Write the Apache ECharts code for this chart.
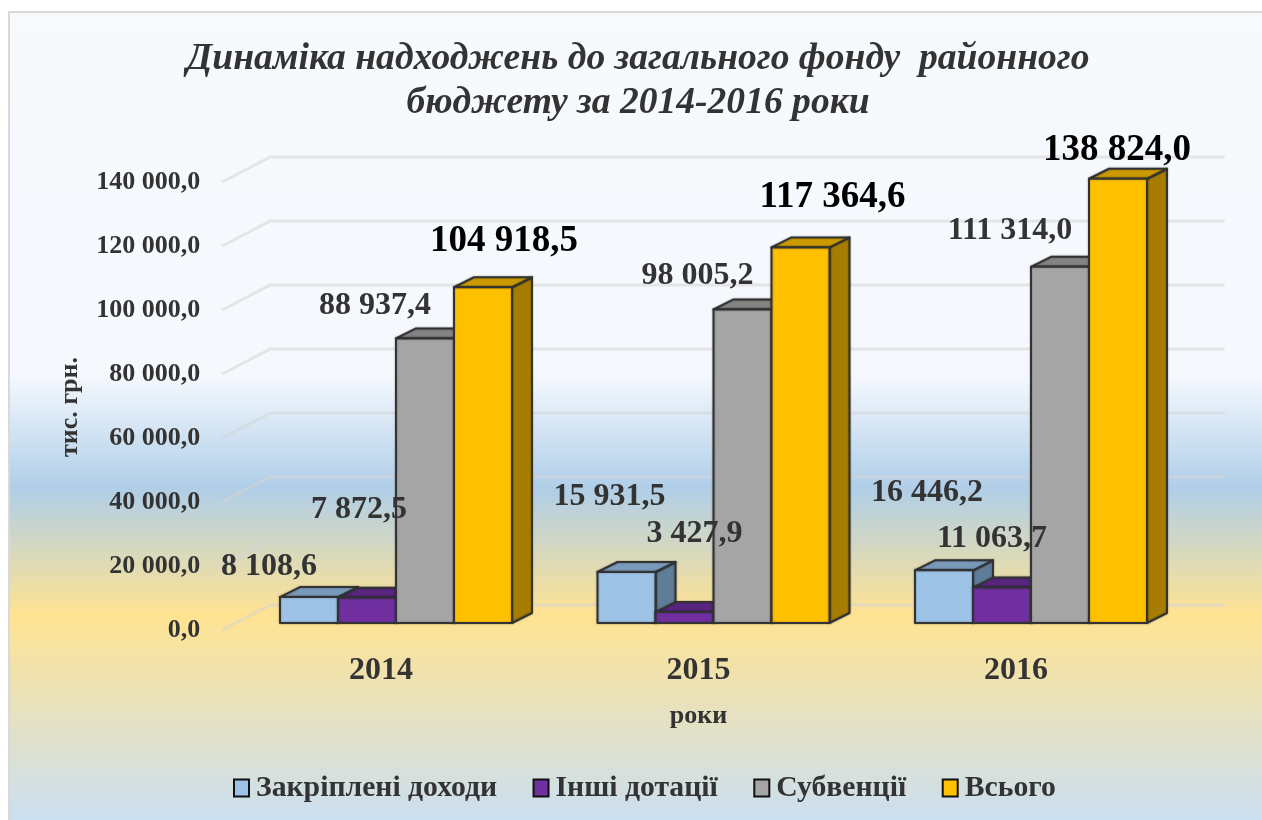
<!DOCTYPE html>
<html><head><meta charset="utf-8">
<style>html,body{margin:0;padding:0;background:#fff}#c{width:1262px;height:820px}</style>
<script src="https://cdn.jsdelivr.net/npm/echarts@6/dist/echarts.min.js"></script>
</head><body><div id="c"></div>
<script>
const years = ['2014','2015','2016'];
const yTicks = [0,20000,40000,60000,80000,100000,120000,140000];
const zakripleni = [8108.6,15931.5,16446.2];
const inshi = [7872.5,3427.9,11063.7];
const subventsii = [88937.4,98005.2,111314.0];
const vsogo = [104918.5,117364.6,138824.0];
const seriesNames = ['Закріплені доходи','Інші дотації','Субвенції','Всього'];
const seriesData = [zakripleni,inshi,subventsii,vsogo];
const colorsFront = ['#9DC3E6','#7030A0','#A5A5A5','#FFC000'];
const colorsTop = ['#7A9ABA','#59267F','#848484','#CC9A00'];
const colorsSide = ['#5F7D98','#46205F','#6A6A6A','#A67D00'];
// label centre offsets relative to the top-centre of each bar (layout only)
const labelShift = [
  [[-40,-30],[-17,-75],[-17,-78]],
  [[-8,-88],[10,-78],[-10,-49]],
  [[-50,-33],[-45,-34],[-50,-36]],
  [[21,-46],[32,-50],[-1,-28]]
];
const fmt = v => { const p = v.toFixed(1).split('.'); return p[0].replace(/\B(?=(\d{3})+$)/g,' ')+','+p[1]; };
const W = 58, DX = 20, DY = 10;
const BACK_X = 33, BACK_Y = 18, FRONT_Y = 7, FRONT_X = 15;

const barSeries = seriesNames.map((name,s)=>({
  type:'custom', name, coordinateSystem:'cartesian2d', z:5,
  itemStyle:{color:colorsFront[s]},
  encode:{x:0,y:1},
  data: seriesData[s].map((v,i)=>[years[i],v]),
  renderItem(params,api){
    const c = api.coord([api.value(0),api.value(1)]);
    const b = api.coord([api.value(0),0]);
    const x0 = c[0]+(s-2)*W, x1 = x0+W, yt = c[1], yb = b[1];
    const line = {stroke:'#333',lineWidth:2,lineJoin:'round',shadowBlur:2,shadowColor:'rgba(0,0,0,0.35)'};
    const i = params.dataIndex, sh = labelShift[s][i], big = s===3;
    return {type:'group',children:[
      {type:'polygon',shape:{points:[[x1,yb],[x1+DX,yb-DY],[x1+DX,yt-DY],[x1,yt]]},style:{fill:colorsSide[s],...line}},
      {type:'polygon',shape:{points:[[x0,yt],[x0+DX,yt-DY],[x1+DX,yt-DY],[x1,yt]]},style:{fill:colorsTop[s],...line}},
      {type:'rect',shape:{x:x0,y:yt,width:W,height:yb-yt},style:{fill:colorsFront[s],...line}},
      {type:'text',z2:50,x:x0+W/2+sh[0],y:yt+sh[1],style:{
        text:fmt(api.value(1)),align:'center',verticalAlign:'middle',
        font:`bold ${big?37:32}px "Liberation Serif"`,fill:big?'#000':'#333'}}
    ]};
  }
}));

const gridSeries = {
  type:'custom', name:'grid', silent:true, z:1, coordinateSystem:'cartesian2d',
  data: yTicks.map(v=>[years[0],v]),
  renderItem(params,api){
    const y = api.coord([years[0],api.value(1)])[1];
    const r = params.coordSys;
    const st = {stroke:'#D4D4D4',lineWidth:3,opacity:.55,fill:null};
    return {type:'polyline',shape:{points:[[r.x-FRONT_X,y+FRONT_Y],[r.x+BACK_X,y-BACK_Y],[r.x+r.width+BACK_X+2,y-BACK_Y]]},style:st};
  }
};

const chart = echarts.init(document.getElementById('c'),null,{renderer:'canvas'});
chart.setOption({
  animation:false,
  graphic:[{type:'rect',z:-10,silent:true,shape:{x:9,y:12,width:1260,height:815},
    style:{stroke:'#D9D9D9',lineWidth:2,fill:new echarts.graphic.LinearGradient(0,0,0,1,[
      {offset:0,color:'#F6FAFD'},{offset:.445,color:'#F5F9FE'},{offset:.584,color:'#B0CEE8'},
      {offset:.74,color:'#FFE392'},{offset:.99,color:'#CBDFF1'},{offset:1,color:'#CBDFF1'}])}},
    {type:'text',z:10,x:638,y:59,style:{text:'Динаміка надходжень до загального фонду  районного',align:'center',verticalAlign:'middle',font:'italic bold 37.6px "Liberation Serif"',fill:'#333'}},
    {type:'text',z:10,x:638,y:103,style:{text:'бюджету за 2014-2016 роки',align:'center',verticalAlign:'middle',font:'italic bold 37.6px "Liberation Serif"',fill:'#333'}}
  ],
  grid:{left:237.25,top:175,width:952.5,height:448},
  xAxis:{type:'category',data:years,axisLine:{show:false},axisTick:{show:false},
    name:'роки',nameLocation:'middle',nameGap:80,nameTextStyle:{fontFamily:'Liberation Serif',fontWeight:'bold',fontSize:26,color:'#333',padding:[0,30,0,0]},
    axisLabel:{margin:32,fontFamily:'Liberation Serif',fontWeight:'bold',fontSize:32,color:'#333',padding:[0,30,0,0]}},
  yAxis:{type:'value',min:0,max:140000,interval:20000,splitLine:{show:false},axisLine:{show:false},axisTick:{show:false},
    name:'тис. грн.',nameLocation:'middle',nameGap:154,nameRotate:90,nameTextStyle:{fontFamily:'Liberation Serif',fontWeight:'bold',fontSize:26,color:'#333',padding:[0,16,0,0]},
    axisLabel:{margin:37,fontFamily:'Liberation Serif',fontWeight:'bold',fontSize:26,color:'#333',formatter:v=>fmt(v),verticalAlign:'top',lineHeight:14}},
  legend:{show:true,data:seriesNames,bottom:12,left:228,itemWidth:15,itemHeight:17,itemGap:35.5,icon:'rect',
    itemStyle:{borderColor:'#111',borderWidth:2},
    textStyle:{fontFamily:'Liberation Serif',fontWeight:'bold',fontSize:29.7,color:'#333',padding:[0,0,0,2]}},
  series:[gridSeries,...barSeries]
});
</script></body></html>
